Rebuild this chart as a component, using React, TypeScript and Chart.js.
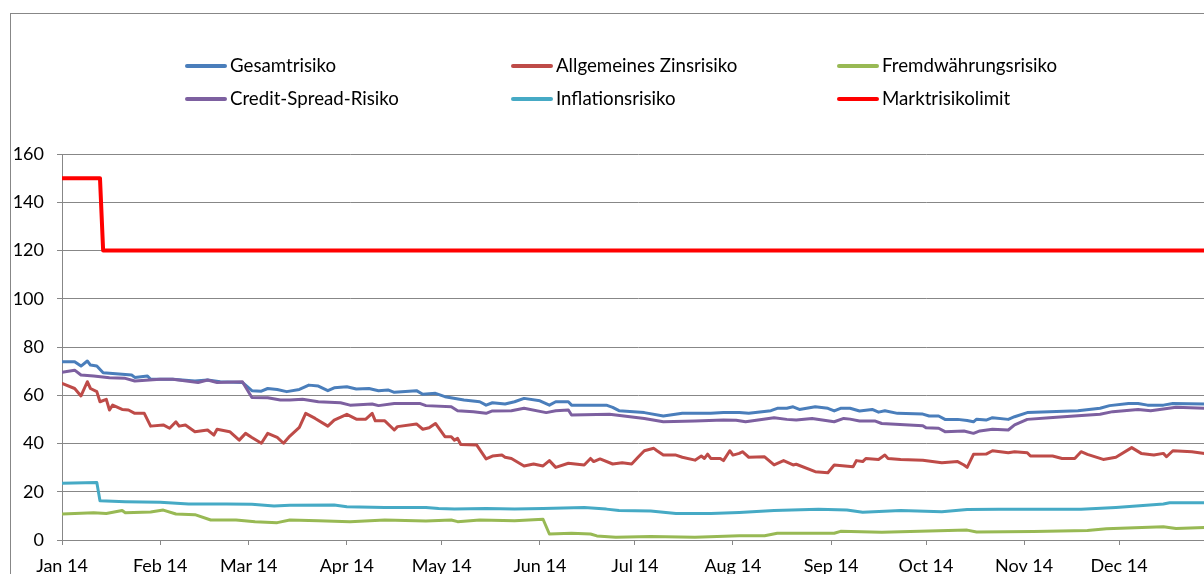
import React, { useEffect, useRef } from "react";
import { Chart, registerables } from "chart.js";

Chart.register(...registerables);

// Month starts (day of year 2014) and their axis labels
const monthTicks = [0, 31, 59, 90, 120, 151, 181, 212, 243, 273, 304, 334];
const monthLabels = ["Jan 14", "Feb 14", "Mar 14", "Apr 14", "May 14", "Jun 14", "Jul 14", "Aug 14", "Sep 14", "Oct 14", "Nov 14", "Dec 14"];

const yTicks = { min: 0, max: 160, step: 20 };

const seriesNames = ["Gesamtrisiko", "Allgemeines Zinsrisiko", "Fremdwährungsrisiko", "Credit-Spread-Risiko", "Inflationsrisiko", "Marktrisikolimit"];
const seriesColors = ["#4A7EBB", "#BE4B48", "#98B954", "#7D60A0", "#46AAC5", "#FF0000"];

// Gesamtrisiko
const gesamtDays = [0, 4, 6, 8, 9, 11, 13, 15, 18, 22, 23, 27, 28, 35, 42, 46, 50, 57, 60, 63, 65, 68, 71, 75, 78, 81, 84, 86, 90, 93, 97, 100, 103, 105, 112, 114, 118, 121, 127, 132, 134, 136, 140, 143, 146, 151, 154, 156, 160, 161, 172, 174, 176, 184, 190, 196, 205, 209, 214, 217, 224, 226, 229, 231, 233, 238, 242, 244, 246, 249, 252, 256, 258, 260, 264, 272, 274, 277, 279, 283, 286, 288, 289, 292, 294, 299, 301, 305, 312, 321, 328, 331, 337, 340, 343, 348, 351, 361, 364];
const gesamtValues = [73.9, 73.9, 72.1, 74.2, 72.5, 72.1, 69.3, 69.1, 68.8, 68.4, 67.4, 68, 66.6, 66.6, 65.9, 66.3, 65.6, 65.3, 61.9, 61.7, 62.8, 62.4, 61.5, 62.4, 64.2, 63.8, 61.9, 63.1, 63.5, 62.6, 62.8, 61.9, 62.2, 61.2, 61.9, 60.4, 60.8, 59.4, 58, 57.3, 55.9, 56.9, 56.4, 57.3, 58.7, 57.7, 55.9, 57.3, 57.3, 55.9, 55.9, 55, 53.6, 52.8, 51.4, 52.5, 52.5, 52.8, 52.8, 52.5, 53.6, 54.6, 54.6, 55.2, 54.1, 55.2, 54.6, 53.5, 54.6, 54.6, 53.5, 54.1, 53, 53.6, 52.5, 52.2, 51.4, 51.4, 50, 50, 49.5, 49, 50.1, 49.7, 50.7, 50, 51.1, 52.8, 53.2, 53.6, 54.6, 55.7, 56.6, 56.6, 55.9, 55.9, 56.6, 56.4, 56.4];

// Allgemeines Zinsrisiko
const zinsDays = [0, 4, 6, 8, 9, 11, 12, 14, 15, 16, 19, 21, 23, 26, 28, 32, 34, 36, 37, 39, 42, 46, 48, 49, 53, 56, 58, 60, 63, 65, 68, 70, 72, 75, 77, 80, 84, 86, 90, 93, 96, 98, 99, 102, 105, 106, 112, 114, 116, 118, 121, 123, 124, 125, 126, 131, 134, 136, 139, 140, 142, 146, 149, 152, 154, 156, 160, 165, 167, 168, 170, 174, 177, 180, 182, 184, 187, 188, 190, 194, 196, 200, 202, 203, 204, 205, 208, 209, 211, 212, 214, 215, 217, 222, 225, 228, 231, 232, 238, 242, 244, 250, 251, 253, 254, 258, 260, 261, 265, 272, 278, 283, 285, 286, 288, 292, 294, 299, 301, 305, 306, 313, 316, 320, 322, 324, 329, 333, 338, 341, 345, 348, 349, 351, 357, 361, 364];
const zinsValues = [64.9, 62.8, 59.7, 65.6, 62.8, 61.5, 57.3, 58.3, 53.9, 55.9, 54.1, 53.9, 52.5, 52.5, 47.2, 47.7, 46.3, 49, 47.2, 47.7, 44.9, 45.6, 43.5, 45.9, 44.9, 41.4, 44.2, 42.5, 40.1, 44.2, 42.5, 40.1, 43.1, 46.7, 52.5, 50.4, 47.2, 49.7, 52.1, 50.1, 50.1, 52.5, 49.4, 49.4, 45.6, 47, 48.1, 45.9, 46.5, 48.3, 42.8, 42.8, 41.4, 42.1, 39.6, 39.4, 33.6, 34.8, 35.2, 34.3, 33.8, 30.7, 31.5, 30.7, 32.9, 30.1, 31.8, 31.1, 33.8, 32.5, 33.6, 31.5, 32, 31.5, 34.3, 37, 38, 37, 35.2, 35.2, 34.3, 33.1, 34.8, 33.8, 35.6, 33.8, 33.8, 32.9, 37, 35.2, 35.9, 36.6, 34.3, 34.5, 31.1, 32.9, 31.1, 31.4, 28.3, 27.9, 31.1, 30.4, 32.9, 32.5, 33.8, 33.4, 35.2, 33.8, 33.4, 33.1, 32, 32.5, 31.1, 30.1, 35.5, 35.6, 37, 36.2, 36.6, 36.2, 34.8, 34.8, 33.8, 33.8, 36.6, 35.5, 33.4, 34.3, 38.3, 35.9, 35.2, 35.9, 34.5, 37, 36.6, 35.9, 35.9];

// Fremdwährungsrisiko
const fremdDays = [0, 10, 14, 19, 20, 28, 32, 36, 42, 47, 55, 61, 68, 72, 81, 91, 102, 115, 123, 125, 132, 143, 152, 154, 161, 167, 169, 175, 186, 200, 214, 222, 226, 244, 246, 259, 268, 286, 289, 307, 324, 330, 348, 352, 361, 364];
const fremdValues = [10.8, 11.3, 11, 12.2, 11.3, 11.6, 12.4, 10.8, 10.5, 8.3, 8.3, 7.6, 7.2, 8.3, 8, 7.6, 8.3, 7.9, 8.3, 7.6, 8.3, 8, 8.6, 2.5, 2.8, 2.5, 1.7, 1.1, 1.4, 1.1, 1.8, 1.8, 2.8, 2.8, 3.6, 3.2, 3.5, 4.1, 3.3, 3.5, 3.9, 4.7, 5.5, 4.8, 5.2, 5.2];

// Credit-Spread-Risiko
const creditDays = [0, 4, 6, 10, 15, 20, 23, 31, 35, 43, 46, 49, 57, 60, 65, 69, 72, 76, 81, 88, 91, 98, 100, 105, 113, 115, 123, 125, 130, 134, 136, 142, 146, 153, 156, 160, 161, 173, 184, 190, 200, 209, 213, 216, 225, 229, 232, 237, 244, 247, 249, 252, 257, 259, 272, 273, 277, 279, 285, 288, 290, 294, 299, 301, 305, 312, 321, 328, 332, 340, 344, 352, 361, 364];
const creditValues = [69.5, 70.4, 68.4, 68, 67.3, 67, 65.9, 66.6, 66.6, 65.3, 66.3, 65.3, 65.6, 59.1, 59, 58, 58, 58.3, 57.3, 56.9, 55.9, 56.4, 55.7, 56.6, 56.6, 55.7, 55.2, 53.6, 53.2, 52.5, 53.5, 53.6, 54.6, 52.8, 53.6, 53.9, 51.8, 52.1, 50.4, 49, 49.3, 49.7, 49.6, 49, 50.7, 50, 49.7, 50.4, 49, 50.4, 50.1, 49.3, 49.3, 48.3, 47.4, 46.5, 46.3, 44.9, 45.2, 44.2, 45.2, 45.9, 45.6, 47.7, 50, 50.7, 51.5, 52.1, 53.2, 54.1, 53.6, 55, 54.6, 54.6];

// Inflationsrisiko
const inflationDays = [0, 11, 12, 20, 31, 40, 52, 60, 67, 72, 86, 90, 102, 115, 119, 124, 134, 143, 152, 165, 172, 176, 186, 194, 205, 214, 225, 239, 248, 253, 265, 278, 286, 296, 306, 322, 333, 348, 350, 361, 364];
const inflationValues = [23.5, 23.8, 16.3, 15.9, 15.6, 14.9, 14.9, 14.8, 14.1, 14.4, 14.5, 13.8, 13.5, 13.5, 13.1, 12.8, 13.1, 12.8, 13.1, 13.5, 12.8, 12.2, 12, 11, 11, 11.4, 12.2, 12.7, 12.4, 11.5, 12.2, 11.7, 12.6, 12.7, 12.7, 12.7, 13.5, 14.9, 15.4, 15.4, 15.4];

// Marktrisikolimit
const limitDays = [0, 12, 13, 364];
const limitValues = [150, 150, 120, 120];

const FONT = "Lato, 'Open Sans', sans-serif";
const GRID = "#878787";

function pairs(days: number[], vals: number[]) {
  return days.map((d, i) => ({ x: d, y: vals[i] }));
}

const W = 1240;
const H = 620;

const frameAndLegend = {
  id: "frameAndLegend",
  beforeDraw(chart: any) {
    const ctx = chart.ctx;
    ctx.save();
    ctx.fillStyle = "#ffffff";
    ctx.fillRect(0, 0, chart.width, chart.height);
    ctx.strokeStyle = GRID;
    ctx.lineWidth = 1;
    ctx.strokeRect(10.5, 13.5, 1400, 800);
    ctx.restore();
  },
  afterDraw(chart: any) {
    const ctx = chart.ctx;
    ctx.save();
    chart.data.datasets.forEach((ds: any, i: number) => {
      const col = i % 3;
      const row = Math.floor(i / 3);
      const x0 = 186 + col * 326;
      const y = 66 + row * 33;
      ctx.strokeStyle = ds.borderColor;
      ctx.lineWidth = 4;
      ctx.lineCap = "round";
      ctx.beginPath();
      ctx.moveTo(x0 + 1, y);
      ctx.lineTo(x0 + 39, y);
      ctx.stroke();
      ctx.fillStyle = "#000000";
      ctx.font = `18.7px ${FONT}`;
      ctx.textBaseline = "middle";
      ctx.textAlign = "left";
      ctx.fillText(ds.label, x0 + 44, y);
    });
    ctx.restore();
  },
};

export default function App() {
  const ref = useRef<HTMLCanvasElement | null>(null);

  useEffect(() => {
    if (!ref.current) return;
    const allDays = [gesamtDays, zinsDays, fremdDays, creditDays, inflationDays, limitDays];
    const allVals = [gesamtValues, zinsValues, fremdValues, creditValues, inflationValues, limitValues];
    const chart = new Chart(ref.current, {
      type: "line",
      data: {
        datasets: seriesNames.map((name, i) => ({
          label: name,
          data: pairs(allDays[i], allVals[i]),
          borderColor: seriesColors[i],
          backgroundColor: seriesColors[i],
          borderWidth: i === 5 ? 4 : 3,
          pointRadius: 0,
          tension: 0,
          fill: false,
          borderJoinStyle: "round",
          borderCapStyle: "round",
          order: 10 - i,
        })),
      },
      options: {
        responsive: false,
        animation: false,
        events: [],
        layout: { padding: { top: 154, right: W - 1214, left: 0, bottom: 0 } },
        plugins: { legend: { display: false }, tooltip: { enabled: false }, title: { display: false } },
        scales: {
          x: {
            type: "linear",
            min: 0,
            max: 364,
            afterBuildTicks: (scale: any) => {
              scale.ticks = monthTicks.map((v) => ({ value: v }));
            },
            afterFit: (scale: any) => {
              scale.height = H - 540;
            },
            ticks: {
              autoSkip: false,
              maxRotation: 0,
              minRotation: 0,
              padding: 10,
              color: "#000000",
              font: { family: FONT, size: 18 },
              callback: (_v: any, idx: number) => monthLabels[idx],
            },
            grid: { drawOnChartArea: false, drawTicks: true, tickLength: 5, color: GRID, lineWidth: 1 },
            border: { display: true, color: GRID, width: 1 },
          },
          y: {
            min: yTicks.min,
            max: yTicks.max,
            afterFit: (scale: any) => {
              scale.width = 62;
            },
            ticks: {
              stepSize: yTicks.step,
              padding: 13,
              color: "#000000",
              font: { family: FONT, size: 18 },
            },
            grid: { drawTicks: true, tickLength: 5, color: GRID, lineWidth: 1 },
            border: { display: true, color: GRID, width: 1 },
          },
        },
      },
      plugins: [frameAndLegend],
    });
    return () => chart.destroy();
  }, []);

  return (
    <div style={{ position: "fixed", left: 0, top: 0, width: 1204, height: 574, overflow: "hidden", background: "#fff" }}>
      <canvas ref={ref} width={W} height={H} style={{ display: "block", width: W, height: H }} />
    </div>
  );
}
